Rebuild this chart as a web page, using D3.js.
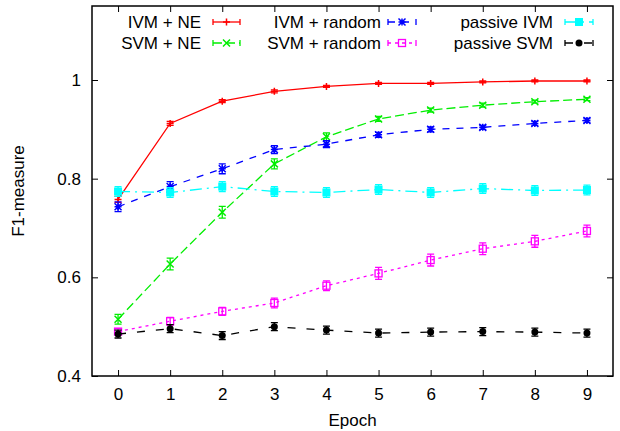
<!DOCTYPE html>
<html>
<head>
<meta charset="utf-8">
<script src="https://d3js.org/d3.v7.min.js"></script>
<style>
  body { margin: 0; background: #fff; }
  text { font-family: "Liberation Sans", Arial, sans-serif; font-size: 17px; fill: #000; }
</style>
</head>
<body>
<svg id="chart" width="620" height="431"></svg>
<script>
// data
const epochs = [0, 1, 2, 3, 4, 5, 6, 7, 8, 9];
const seriesNames = ["IVM + NE", "SVM + NE", "IVM + random", "SVM + random", "passive IVM", "passive SVM"];
const ivmNE      = [0.758, 0.912, 0.957, 0.977, 0.987, 0.993, 0.993, 0.996, 0.998, 0.998];
const svmNE      = [0.515, 0.627, 0.732, 0.830, 0.885, 0.921, 0.939, 0.949, 0.956, 0.961];
const ivmRandom  = [0.743, 0.784, 0.820, 0.859, 0.870, 0.889, 0.900, 0.904, 0.912, 0.918];
const svmRandom  = [0.490, 0.511, 0.531, 0.548, 0.583, 0.608, 0.635, 0.658, 0.673, 0.694];
const passiveIVM = [0.774, 0.772, 0.784, 0.774, 0.772, 0.778, 0.772, 0.780, 0.776, 0.777];
const passiveSVM = [0.485, 0.496, 0.482, 0.500, 0.493, 0.487, 0.489, 0.490, 0.489, 0.487];
// error bar half-widths
const ivmNEErr      = [0.006, 0.004, 0.003, 0.003, 0.002, 0.002, 0.002, 0.002, 0.002, 0.002];
const svmNEErr      = [0.010, 0.012, 0.012, 0.010, 0.008, 0.005, 0.004, 0.004, 0.003, 0.003];
const ivmRandomErr  = [0.010, 0.010, 0.010, 0.008, 0.007, 0.005, 0.005, 0.004, 0.004, 0.004];
const svmRandomErr  = [0.006, 0.008, 0.008, 0.010, 0.010, 0.012, 0.012, 0.012, 0.012, 0.012];
const passiveIVMErr = [0.010, 0.010, 0.010, 0.010, 0.010, 0.010, 0.010, 0.010, 0.010, 0.010];
const passiveSVMErr = [0.008, 0.008, 0.008, 0.008, 0.008, 0.008, 0.008, 0.008, 0.008, 0.008];
const yTicks = [0.4, 0.6, 0.8, 1];

const series = [
  { name: seriesNames[0], vals: ivmNE, err: ivmNEErr, color: "#ff0000", dash: null, mark: "plus" },
  { name: seriesNames[1], vals: svmNE, err: svmNEErr, color: "#00ee00", dash: "9,4", mark: "cross" },
  { name: seriesNames[2], vals: ivmRandom, err: ivmRandomErr, color: "#0000ff", dash: "7,7", mark: "star" },
  { name: seriesNames[3], vals: svmRandom, err: svmRandomErr, color: "#ff00ff", dash: "3,4", mark: "square" },
  { name: seriesNames[4], vals: passiveIVM, err: passiveIVMErr, color: "#00ffff", dash: "12,5,2,5", mark: "fsquare" },
  { name: seriesNames[5], vals: passiveSVM, err: passiveSVMErr, color: "#000000", dash: "8,11", mark: "circle" }
];

const svg = d3.select("#chart");
const plotLeft = 92, plotRight = 613, plotTop = 6, plotBottom = 376;

const x = d3.scaleLinear().domain([-0.5, 9.5]).range([plotLeft, plotRight]);
const y = d3.scaleLinear().domain([0.4, 1.15]).range([plotBottom, plotTop]);

// ticks on all four sides, pointing inwards
const tickLen = 6;
const ax = svg.append("g");
ax.append("g").attr("transform", `translate(0,${plotBottom})`)
  .call(d3.axisBottom(x).tickValues(epochs).tickSizeInner(-tickLen).tickSizeOuter(0).tickPadding(12).tickFormat(d3.format("d")));
ax.append("g").attr("transform", `translate(0,${plotTop})`)
  .call(d3.axisTop(x).tickValues(epochs).tickSizeInner(-tickLen).tickSizeOuter(0).tickFormat(""));
ax.append("g").attr("transform", `translate(${plotLeft},0)`)
  .call(d3.axisLeft(y).tickValues(yTicks).tickSizeInner(-tickLen).tickSizeOuter(0).tickPadding(11).tickFormat(d => d3.format("")(d)));
ax.append("g").attr("transform", `translate(${plotRight},0)`)
  .call(d3.axisRight(y).tickValues(yTicks).tickSizeInner(-tickLen).tickSizeOuter(0).tickFormat(""));
ax.selectAll(".domain").remove();
ax.selectAll(".tick line").attr("stroke", "#000").attr("stroke-width", 1);
ax.selectAll(".tick text").attr("font-size", 17).attr("font-family", "Liberation Sans, Arial, sans-serif").attr("fill", "#000");

svg.append("rect")
  .attr("x", plotLeft).attr("y", plotTop)
  .attr("width", plotRight - plotLeft).attr("height", plotBottom - plotTop)
  .attr("fill", "none").attr("stroke", "#000").attr("stroke-width", 1.5);

svg.append("text")
  .attr("x", (plotLeft + plotRight) / 2).attr("y", 426)
  .attr("text-anchor", "middle").text("Epoch");
svg.append("text")
  .attr("transform", `translate(24,${(plotTop + plotBottom) / 2}) rotate(-90)`)
  .attr("text-anchor", "middle").text("F1-measure");

function marker(g, type, cx, cy, color) {
  const s = 3.5;
  if (type === "plus") {
    g.append("path").attr("d", `M${cx - s},${cy}H${cx + s}M${cx},${cy - s}V${cy + s}`)
      .attr("stroke", color).attr("stroke-width", 1.5);
  } else if (type === "cross") {
    g.append("path").attr("d", `M${cx - s},${cy - s}L${cx + s},${cy + s}M${cx - s},${cy + s}L${cx + s},${cy - s}`)
      .attr("stroke", color).attr("stroke-width", 1.5);
  } else if (type === "star") {
    g.append("path").attr("d", `M${cx - s},${cy}H${cx + s}M${cx},${cy - s}V${cy + s}M${cx - s},${cy - s}L${cx + s},${cy + s}M${cx - s},${cy + s}L${cx + s},${cy - s}`)
      .attr("stroke", color).attr("stroke-width", 1.5);
  } else if (type === "square") {
    g.append("rect").attr("x", cx - s).attr("y", cy - s).attr("width", 2 * s).attr("height", 2 * s)
      .attr("fill", "none").attr("stroke", color).attr("stroke-width", 1.3);
  } else if (type === "fsquare") {
    g.append("rect").attr("x", cx - 4).attr("y", cy - 4).attr("width", 8).attr("height", 8)
      .attr("fill", color);
  } else if (type === "circle") {
    g.append("circle").attr("cx", cx).attr("cy", cy).attr("r", 3.5).attr("fill", color);
  }
}

const plot = svg.append("g");
const line = d3.line().x((d, i) => x(epochs[i])).y(d => y(d));
const cap = 3.5;

series.forEach(s => {
  const g = plot.append("g");
  g.append("path").datum(s.vals)
    .attr("d", line)
    .attr("fill", "none")
    .attr("stroke", s.color)
    .attr("stroke-width", 1.3)
    .attr("stroke-dasharray", s.dash);
  s.vals.forEach((v, i) => {
    const cx = x(epochs[i]);
    const y0 = y(v - s.err[i]), y1 = y(v + s.err[i]);
    g.append("path")
      .attr("d", `M${cx},${y0}V${y1}M${cx - cap},${y0}H${cx + cap}M${cx - cap},${y1}H${cx + cap}`)
      .attr("stroke", s.color).attr("stroke-width", 1.3).attr("fill", "none");
    marker(g, s.mark, cx, y(v), s.color);
  });
});

// legend: three columns, two rows, text right-aligned before the sample
const legendCols = [{ textX: 201, x0: 213, x1: 240 }, { textX: 381, x0: 388, x1: 416 }, { textX: 553, x0: 565, x1: 593 }];
const legendRows = [22, 43];
series.forEach((s, i) => {
  const col = legendCols[Math.floor(i / 2)];
  const ly = legendRows[i % 2];
  const g = svg.append("g");
  g.append("text").attr("x", col.textX).attr("y", ly + 6).attr("text-anchor", "end").text(s.name);
  g.append("line").attr("x1", col.x0).attr("x2", col.x1).attr("y1", ly).attr("y2", ly)
    .attr("stroke", s.color).attr("stroke-width", 1.3).attr("stroke-dasharray", s.dash);
  g.append("path")
    .attr("d", `M${col.x0},${ly - 3}V${ly + 3}M${col.x1},${ly - 3}V${ly + 3}`)
    .attr("stroke", s.color).attr("stroke-width", 1.3);
  marker(g, s.mark, (col.x0 + col.x1) / 2, ly, s.color);
});
</script>
</body>
</html>
